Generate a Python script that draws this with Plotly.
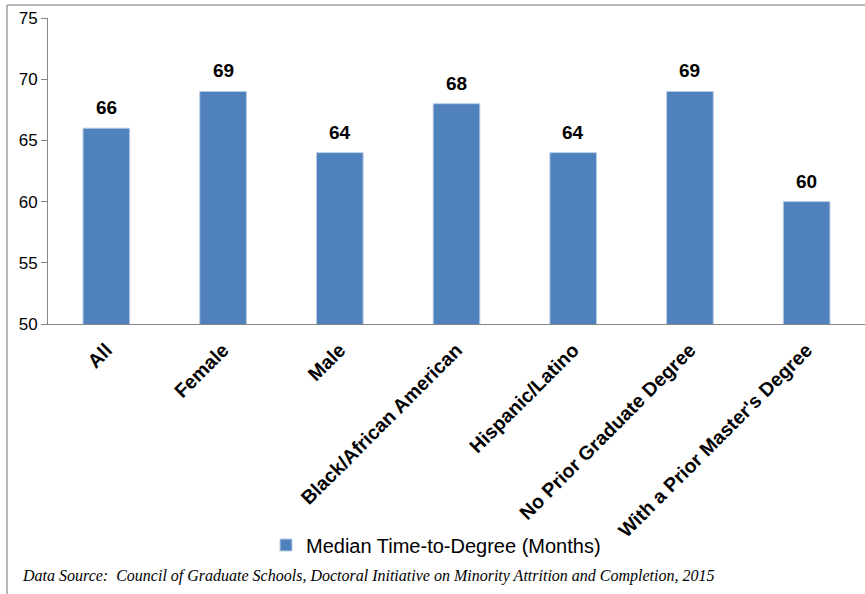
import plotly.graph_objects as go

categories = ["All", "Female", "Male", "Black/African American", "Hispanic/Latino",
              "No Prior Graduate Degree", "With a Prior Master's Degree"]
values = [66, 69, 64, 68, 64, 69, 60]
series_name = "Median Time-to-Degree (Months)"
y_ticks = [50, 55, 60, 65, 70, 75]
source_text = "Data Source:  Council of Graduate Schools, Doctoral Initiative on Minority Attrition and Completion, 2015"

W, H = 865, 594
L, R, T, B = 48, 0, 18, 270
pw, ph = W - L - R, H - T - B

def px_x(p):
    return (p - L) / pw

def px_y(p):
    return (H - B - p) / ph

fig = go.Figure()
fig.add_trace(go.Bar(
    x=categories, y=values, name=series_name,
    marker=dict(color="#4F81BD", line=dict(color="#B9CDE5", width=1)),
    showlegend=True,
))

for c, v in zip(categories, values):
    fig.add_annotation(x=c, y=v, text="<b>%d</b>" % v, showarrow=False,
                       yanchor="bottom", yshift=8,
                       font=dict(family="Liberation Sans, Arial", size=19, color="black"))

fig.add_annotation(xref="paper", yref="paper", x=px_x(20), y=px_y(576),
                   xanchor="left", yanchor="middle", showarrow=False,
                   text="<i>" + source_text + "</i>",
                   font=dict(family="Liberation Serif, Times New Roman", size=16, color="black"))

# outer frame
fig.add_shape(type="line", xref="paper", yref="paper",
              x0=px_x(7), x1=px_x(866), y0=px_y(5), y1=px_y(5),
              line=dict(color="#A0A0A0", width=1.5))
fig.add_shape(type="line", xref="paper", yref="paper",
              x0=px_x(7), x1=px_x(7), y0=px_y(5), y1=px_y(596),
              line=dict(color="#A0A0A0", width=1.5))

fig.update_layout(
    width=W, height=H,
    margin=dict(l=L, r=R, t=T, b=B, autoexpand=False),
    paper_bgcolor="white", plot_bgcolor="white",
    bargap=0.6,
    font=dict(family="Liberation Sans, Arial", color="black"),
    legend=dict(orientation="h", x=px_x(266), xanchor="left", y=px_y(545), yanchor="middle",
                font=dict(size=20, family="Liberation Sans, Arial", color="black")),
    xaxis=dict(showline=True, linecolor="#868686", linewidth=1, ticks="",
               tickangle=-45, ticklabelstandoff=6,
               tickfont=dict(size=19.5, family="Liberation Sans, Arial", color="black"),
               tickprefix="<b>", ticksuffix="</b>", showgrid=False),
    yaxis=dict(range=[50, 75], tickvals=y_ticks, showline=True, linecolor="#868686", linewidth=1,
               ticks="outside", ticklen=6, tickcolor="#868686", showgrid=False, zeroline=False,
               tickfont=dict(size=17, family="Liberation Sans, Arial", color="black")),
)

fig.write_html("out.html", config={"displayModeBar": False},
               post_script="document.body.style.margin='0';document.body.style.overflow='hidden';")
